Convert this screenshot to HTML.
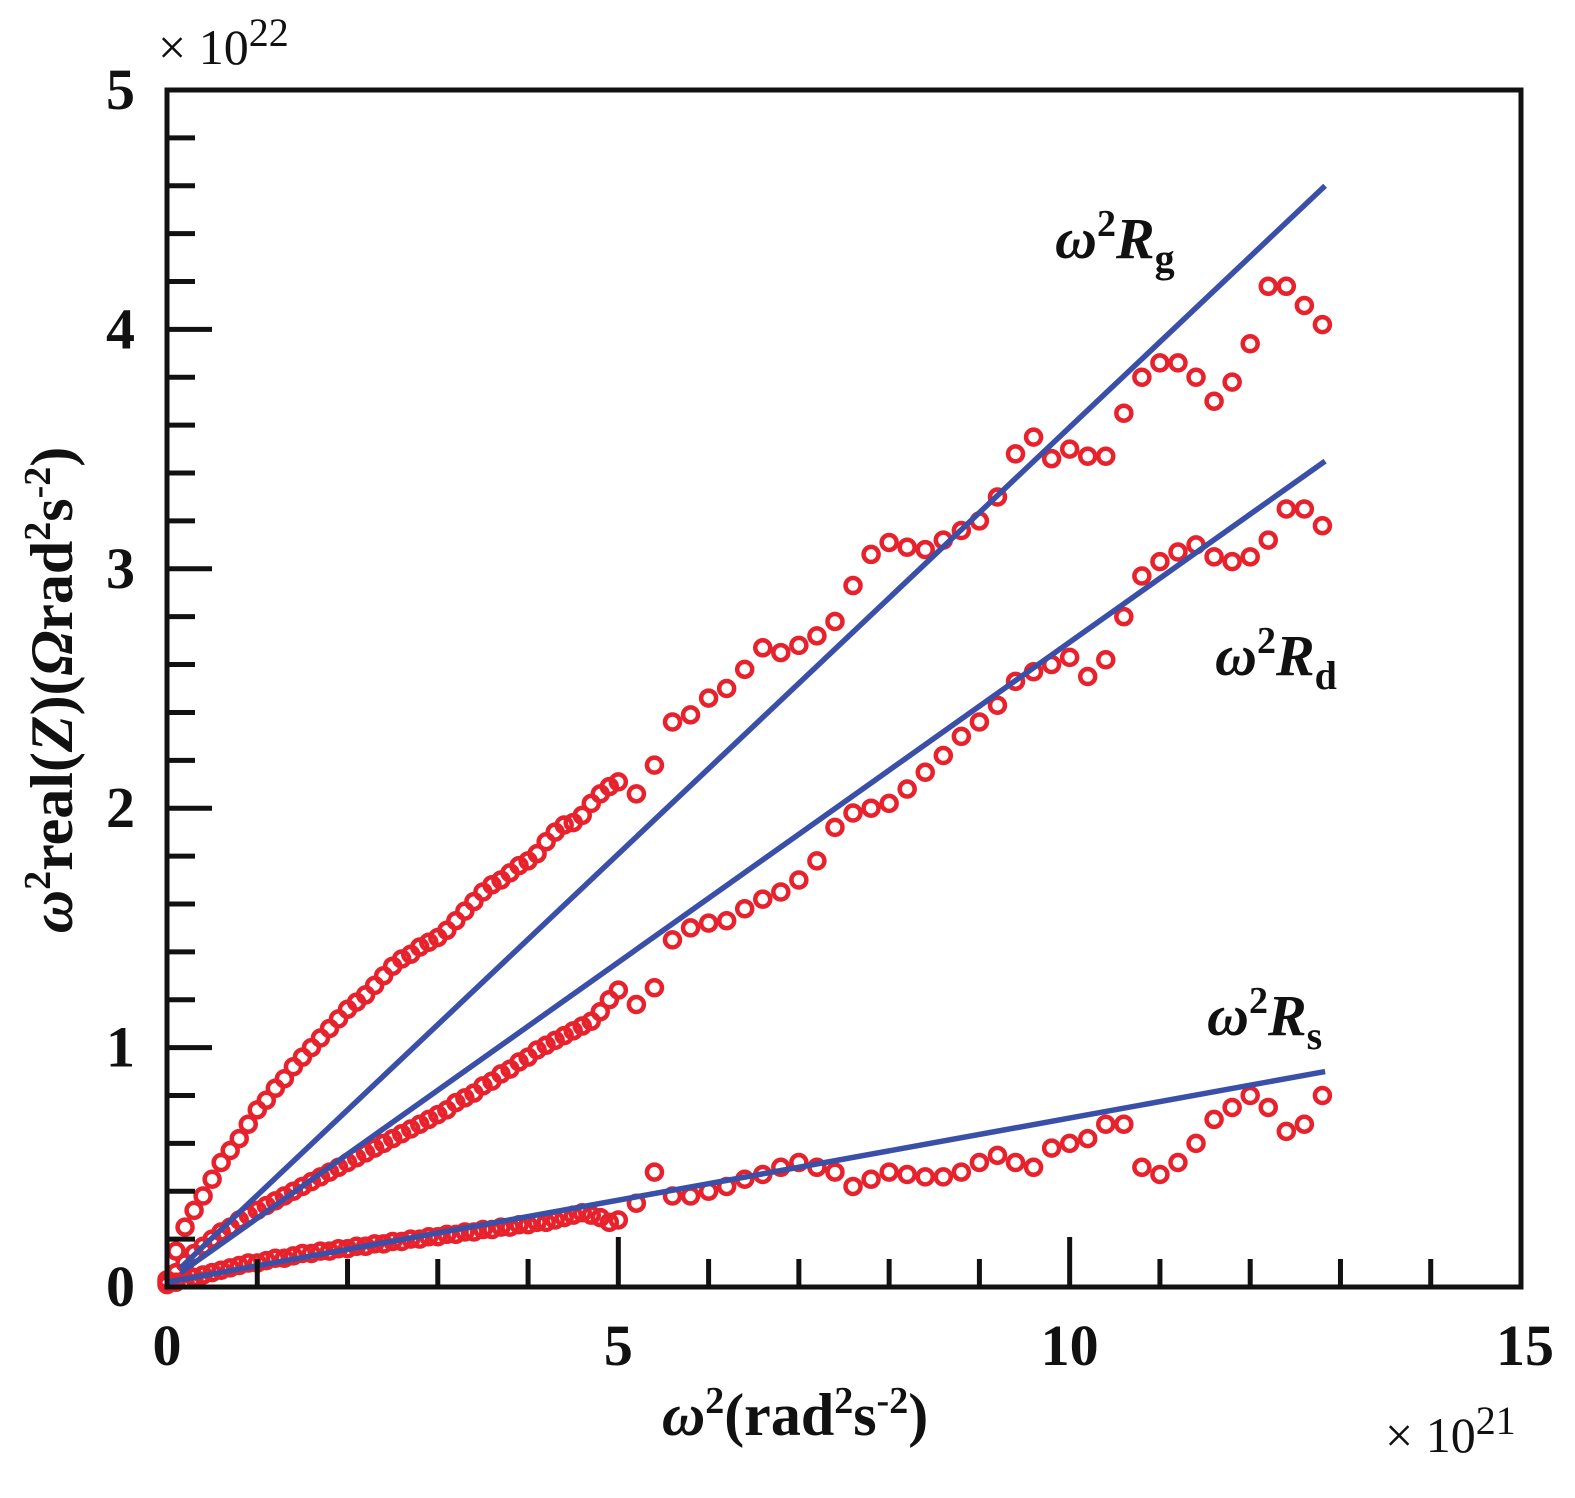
<!DOCTYPE html>
<html><head><meta charset="utf-8"><style>
html,body{margin:0;padding:0;background:#fff;}
svg text{font-family:"Liberation Serif",serif;font-weight:bold;fill:#111;}
</style></head><body>
<svg id="chart" width="1575" height="1493" xmlns="http://www.w3.org/2000/svg">
<g id="marks"></g>
<g id="axes"></g>
<text x="158" y="64" font-size="50" style="font-weight:normal">× 10<tspan dy="-18" font-size="40">22</tspan></text>
<text x="1385" y="1452" font-size="50" style="font-weight:normal">× 10<tspan dy="-18" font-size="40">21</tspan></text>
<text x="795" y="1435" font-size="60" text-anchor="middle"><tspan font-style="italic">ω</tspan><tspan dy="-22" font-size="38">2</tspan><tspan dy="22">(rad</tspan><tspan dy="-22" font-size="38">2</tspan><tspan dy="22">s</tspan><tspan dy="-22" font-size="38">-2</tspan><tspan dy="22">)</tspan></text>
<text transform="translate(72,690) rotate(-90)" font-size="60" text-anchor="middle"><tspan font-style="italic">ω</tspan><tspan dy="-22" font-size="38">2</tspan><tspan dy="22">real(</tspan><tspan font-style="italic">Z</tspan><tspan>)(</tspan><tspan font-style="italic">Ω</tspan><tspan>rad</tspan><tspan dy="-22" font-size="38">2</tspan><tspan dy="22">s</tspan><tspan dy="-22" font-size="38">-2</tspan><tspan dy="22">)</tspan></text>
<text x="1055" y="258" font-size="58"><tspan font-style="italic">ω</tspan><tspan dy="-22" font-size="38">2</tspan><tspan dy="22" font-style="italic">R</tspan><tspan dy="14" font-size="40">g</tspan></text>
<text x="1215" y="675" font-size="58"><tspan font-style="italic">ω</tspan><tspan dy="-22" font-size="38">2</tspan><tspan dy="22" font-style="italic">R</tspan><tspan dy="14" font-size="40">d</tspan></text>
<text x="1207" y="1035" font-size="58"><tspan font-style="italic">ω</tspan><tspan dy="-22" font-size="38">2</tspan><tspan dy="22" font-style="italic">R</tspan><tspan dy="14" font-size="40">s</tspan></text>
</svg>
<script>
const xsDense = [0,0.1,0.2,0.3,0.4,0.5,0.6,0.7,0.8,0.9,1,1.1,1.2,1.3,1.4,1.5,1.6,1.7,1.8,1.9,2,2.1,2.2,2.3,2.4,2.5,2.6,2.7,2.8,2.9,3,3.1,3.2,3.3,3.4,3.5,3.6,3.7,3.8,3.9,4,4.1,4.2,4.3,4.4,4.5,4.6,4.7,4.8,4.9,5];
const xsSparse = [5.2,5.4,5.6,5.8,6,6.2,6.4,6.6,6.8,7,7.2,7.4,7.6,7.8,8,8.2,8.4,8.6,8.8,9,9.2,9.4,9.6,9.8,10,10.2,10.4,10.6,10.8,11,11.2,11.4,11.6,11.8,12,12.2,12.4,12.6,12.8];
const rgValues = [0.03,0.15,0.25,0.32,0.38,0.45,0.52,0.57,0.62,0.68,0.74,0.78,0.83,0.87,0.92,0.96,1.0,1.04,1.08,1.12,1.16,1.19,1.22,1.26,1.3,1.34,1.37,1.39,1.42,1.44,1.46,1.49,1.53,1.57,1.61,1.65,1.68,1.7,1.73,1.76,1.78,1.81,1.86,1.9,1.93,1.94,1.97,2.02,2.06,2.09,2.11,
 2.06,2.18,2.36,2.39,2.46,2.5,2.58,2.67,2.65,2.68,2.72,2.78,2.93,3.06,3.11,3.09,3.08,3.12,3.16,3.2,3.3,3.48,3.55,3.46,3.5,3.47,3.47,3.65,3.8,3.86,3.86,3.8,3.7,3.78,3.94,4.18,4.18,4.1,4.02];
const rdValues = [0.02,0.06,0.1,0.14,0.17,0.2,0.23,0.25,0.28,0.3,0.32,0.34,0.36,0.38,0.4,0.42,0.44,0.46,0.48,0.5,0.52,0.54,0.56,0.58,0.6,0.62,0.64,0.66,0.68,0.7,0.72,0.74,0.77,0.79,0.81,0.84,0.86,0.89,0.91,0.94,0.96,0.99,1.01,1.03,1.05,1.07,1.09,1.11,1.15,1.2,1.24,
 1.18,1.25,1.45,1.5,1.52,1.53,1.58,1.62,1.65,1.7,1.78,1.92,1.98,2.0,2.02,2.08,2.15,2.22,2.3,2.36,2.43,2.53,2.57,2.6,2.63,2.55,2.62,2.8,2.97,3.03,3.07,3.1,3.05,3.03,3.05,3.12,3.25,3.25,3.18];
const rsValues = [0.01,0.02,0.03,0.04,0.05,0.06,0.07,0.08,0.09,0.1,0.1,0.11,0.12,0.12,0.13,0.14,0.14,0.15,0.15,0.16,0.16,0.17,0.17,0.18,0.18,0.19,0.19,0.2,0.2,0.21,0.21,0.22,0.22,0.23,0.23,0.24,0.24,0.25,0.25,0.26,0.26,0.27,0.27,0.28,0.29,0.3,0.31,0.3,0.29,0.27,0.28,
 0.35,0.48,0.38,0.38,0.4,0.42,0.45,0.47,0.5,0.52,0.5,0.48,0.42,0.45,0.48,0.47,0.46,0.46,0.48,0.52,0.55,0.52,0.5,0.58,0.6,0.62,0.68,0.68,0.5,0.47,0.52,0.6,0.7,0.75,0.8,0.75,0.65,0.68,0.8];
const fitStartX = [0.15,0.15,0];
const fitStartY = [0.08,0.06,0.02];
const fitEndX = [12.83,12.83,12.83];
const fitEndY = [4.6,3.45,0.9];
const fitNames = ['fit-line-rg','fit-line-rd','fit-line-rs'];
const xTickLabels = [0,5,10,15];
const yTickLabels = [0,1,2,3,4,5];

const xs = xsDense.concat(xsSparse);
const L=167,R=1521,T=90,B=1287;
const X=v=>L+(R-L)*v/15;
const Y=v=>B-(B-T)*v/5;
const NS='http://www.w3.org/2000/svg';
const marks=document.getElementById('marks'), axes=document.getElementById('axes');
function mk(tag,attrs,parent){const e=document.createElementNS(NS,tag);for(const k in attrs)e.setAttribute(k,attrs[k]);parent.appendChild(e);return e;}

[[rgValues,'rg'],[rdValues,'rd'],[rsValues,'rs']].forEach(([vals,n])=>{
  vals.forEach((v,i)=>{
    const c=mk('circle',{cx:X(xs[i]),cy:Y(v),r:7.5,fill:'none',stroke:'#e8222c','stroke-width':4.5},marks);
    
    
  });
});
fitEndY.forEach((v,i)=>{
  const l=mk('line',{x1:X(fitStartX[i]),y1:Y(fitStartY[i]),x2:X(fitEndX[i]),y2:Y(v),stroke:'#3a50a8','stroke-width':5.5},marks);
  
  
});
const f=mk('rect',{x:L,y:T,width:R-L,height:B-T,fill:'none',stroke:'#111','stroke-width':5},axes);


for(let i=1;i<25;i++){
  const v=i*0.2, major=i%5===0;
  const t=mk('line',{x1:L,x2:L+(major?45:28),y1:Y(v),y2:Y(v),stroke:'#111','stroke-width':5},axes);
  
  
}
for(let i=1;i<15;i++){
  const major=i%5===0;
  const t=mk('line',{x1:X(i),x2:X(i),y1:B,y2:B-(major?50:28),stroke:'#111','stroke-width':5},axes);
  
  
}
yTickLabels.forEach(v=>{
  const t=mk('text',{x:135,y:Y(v)+19,'font-size':58,'text-anchor':'end'},axes);
  t.textContent=v;
  
  
});
xTickLabels.forEach(v=>{
  const t=mk('text',{x:X(v)+(v===15?4:0),y:1365,'font-size':58,'text-anchor':'middle'},axes);
  t.textContent=v;
  
  
});
</script>
</body></html>
